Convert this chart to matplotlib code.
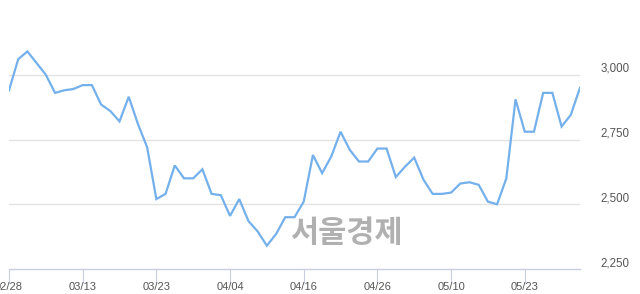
import matplotlib.pyplot as plt
import numpy as np

# closing prices, one per trading day (02/28 .. end of May)
prices = [2940, 3060, 3090, 3045, 3000, 2930, 2940, 2945, 2960, 2960,
          2885, 2860, 2820, 2915, 2810, 2720, 2520, 2540, 2650, 2600,
          2600, 2635, 2540, 2535, 2455, 2520, 2435, 2395, 2340, 2385,
          2450, 2450, 2510, 2690, 2620, 2685, 2780, 2710, 2665, 2665,
          2715, 2715, 2605, 2645, 2680, 2595, 2540, 2540, 2545, 2580,
          2585, 2575, 2510, 2500, 2600, 2905, 2780, 2780, 2930, 2930,
          2800, 2845, 2950]
tick_idx = [0, 8, 16, 24, 32, 40, 48, 56]
tick_labels = ["02/28", "03/13", "03/23", "04/04", "04/16", "04/26", "05/10", "05/23"]
y_ticks = [2250, 2500, 2750, 3000]

x = np.arange(len(prices))

fig = plt.figure(figsize=(6.4, 2.94), dpi=100)
ax = fig.add_axes([9 / 640, 1 - 269 / 294, 571 / 640, 259 / 294])

# horizontal grid
for v in y_ticks[1:]:
    ax.axhline(v, color="#e3e3e3", lw=1, zorder=1)

ax.plot(x, prices, color="#74b0eb", lw=1.6, zorder=3, solid_joinstyle="miter")

ax.set_xlim(0, len(prices) - 1)
ax.set_ylim(2250, 3250)

for s in ["top", "left", "right"]:
    ax.spines[s].set_visible(False)
ax.spines["bottom"].set_color("#c8d0e0")
ax.spines["bottom"].set_linewidth(1)

ax.set_xticks(tick_idx)
ax.set_xticklabels(tick_labels)
ax.tick_params(axis="x", length=10, color="#c8d0e0", pad=-1, labelsize=8, labelcolor="#555555")

ax.yaxis.tick_right()
ax.set_yticks(y_ticks)
ax.set_yticklabels([f"{v:,}" for v in y_ticks])
ax.tick_params(axis="y", length=0, pad=15, labelsize=8.3, labelcolor="#555555")
for lab in ax.get_yticklabels():
    lab.set_va("bottom")

for lab in ax.get_xticklabels() + ax.get_yticklabels():
    lab.set_family("Liberation Sans")

# watermark
fig.text(346 / 640, 1 - 233 / 294, "서울경제", fontsize=22, fontweight="bold",
         color="#b0b0b0", ha="center", va="center", family="Noto Sans CJK KR", zorder=5)

fig.savefig("out.png", dpi=100)
